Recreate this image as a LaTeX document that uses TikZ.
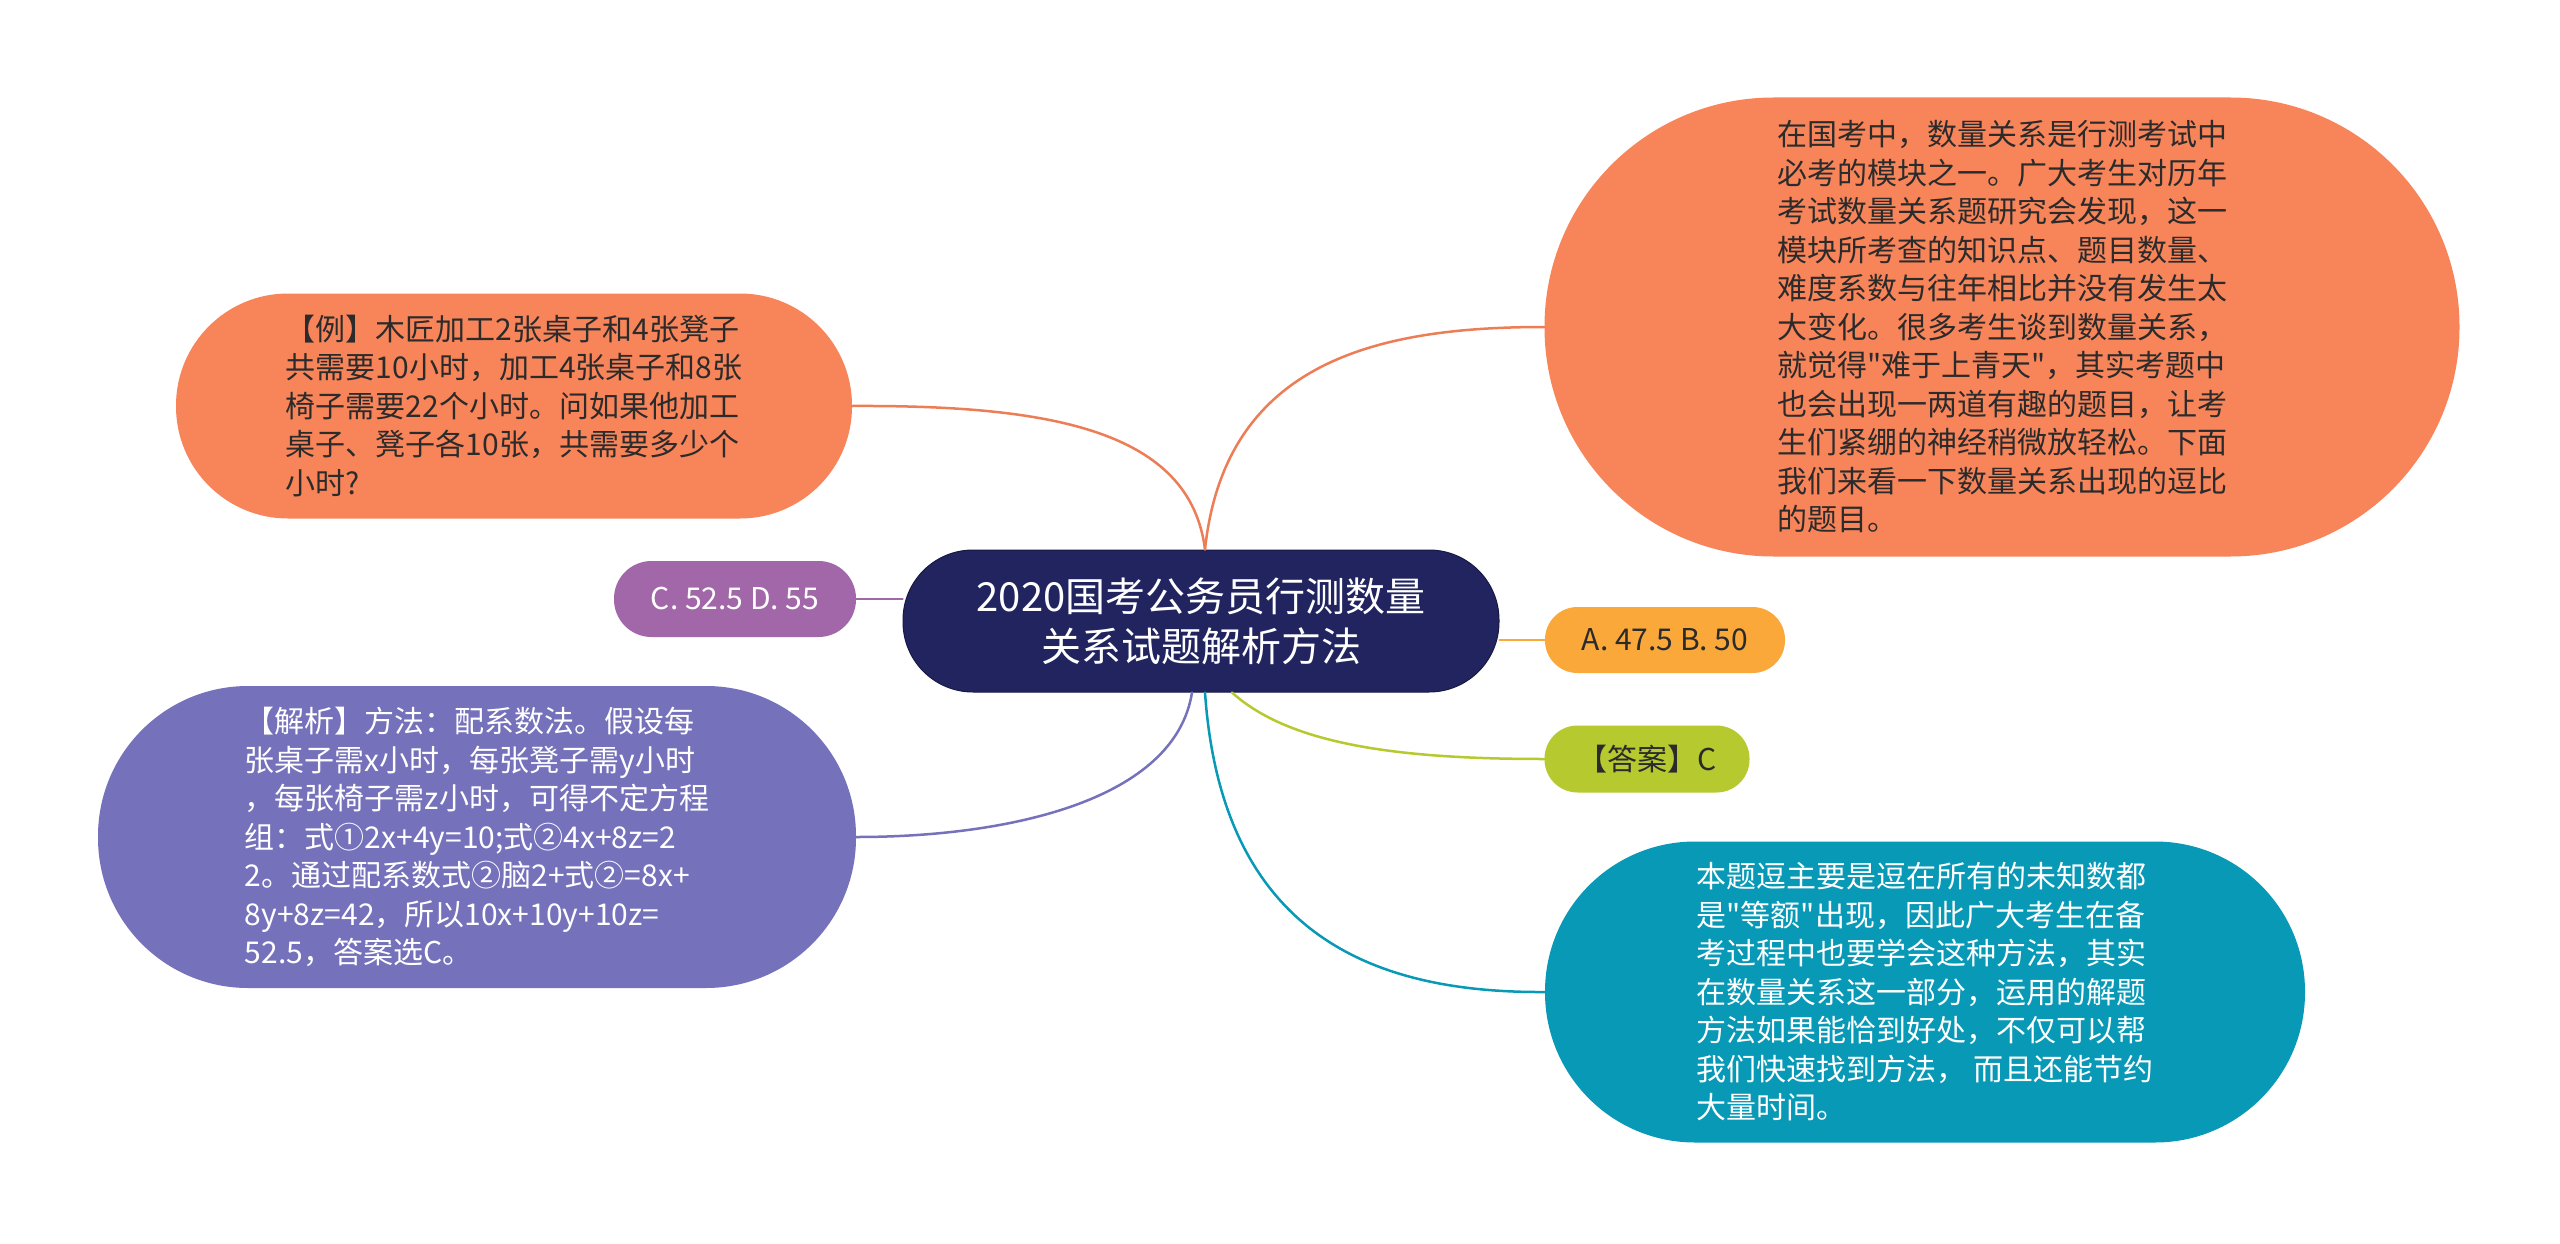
\documentclass[tikz,border=0pt]{standalone}
\usepackage{fontspec}
\setmainfont{Noto Sans CJK SC}[Ligatures=TeXOff]
\usetikzlibrary{calc}
\definecolor{cOrange}{HTML}{F8845A}
\definecolor{cPurple}{HTML}{A267A9}
\definecolor{cViolet}{HTML}{7571BB}
\definecolor{cNavy}{HTML}{21245F}
\definecolor{cAmber}{HTML}{FAA83A}
\definecolor{cGreen}{HTML}{B6C92F}
\definecolor{cTeal}{HTML}{0799B6}
\definecolor{cDark}{HTML}{2B2B2B}
\begin{document}
\begin{tikzpicture}[x=1pt,y=-1pt,
  bub/.style={inner sep=0pt, align=left, font={\fontsize{30}{38.5}\selectfont}},
  conn/.style={line width=2.5pt, line cap=round}]
\fill[white] (0,0) rectangle (2560,1244);
\useasboundingbox (0,0) rectangle (2560,1244);

% central topic
\node[inner sep=0pt, align=center, font={\fontsize{40}{50}\selectfont}, text=white,
      fill=cNavy, draw=cNavy!70!black, line width=1pt,
      minimum width=596pt, minimum height=142pt, rounded corners=70pt] (c) at (1201,621)
  {2020国考公务员行测数量\\关系试题解析方法};

% left side
\node[bub, fill=cOrange, text=cDark, minimum width=676pt, minimum height=225pt, rounded corners=112pt] (ex) at (514,406)
  {【例】木匠加工2张桌子和4张凳子\\共需要10小时，加工4张桌子和8张\\椅子需要22个小时。问如果他加工\\桌子、凳子各10张，共需要多少个\\小时?};

\node[bub, fill=cPurple, text=white, minimum width=242pt, minimum height=76pt, rounded corners=37.5pt] (cd) at (735,599)
  {C. 52.5 D. 55};

\node[bub, fill=cViolet, text=white, minimum width=758pt, minimum height=302pt, rounded corners=150pt] (jx) at (477,837)
  {【解析】方法：配系数法。假设每\\张桌子需x小时，每张凳子需y小时\\，每张椅子需z小时，可得不定方程\\组：式①2x+4y=10;式②4x+8z=2\\2。通过配系数式②脑2+式②=8x+\\8y+8z=42，所以10x+10y+10z=\\52.5，答案选C。};

% right side
\node[bub, fill=cOrange, text=cDark, minimum width=915pt, minimum height=459pt, rounded corners=229pt] (tr) at (2002,327)
  {在国考中，数量关系是行测考试中\\必考的模块之一。广大考生对历年\\考试数量关系题研究会发现，这一\\模块所考查的知识点、题目数量、\\难度系数与往年相比并没有发生太\\大变化。很多考生谈到数量关系，\\就觉得"难于上青天"，其实考题中\\也会出现一两道有趣的题目，让考\\生们紧绷的神经稍微放轻松。下面\\我们来看一下数量关系出现的逗比\\的题目。};

\node[bub, fill=cAmber, text=cDark, minimum width=240pt, minimum height=66pt, rounded corners=32.5pt] (ab) at (1665,640)
  {A. 47.5 B. 50};

\node[bub, fill=cGreen, text=cDark, minimum width=205pt, minimum height=67pt, rounded corners=33pt] (ans) at (1647,759)
  {【答案】C};

\node[bub, fill=cTeal, text=white, minimum width=760pt, minimum height=301pt, rounded corners=150pt] (tl) at (1925,992)
  {本题逗主要是逗在所有的未知数都\\是"等额"出现，因此广大考生在备\\考过程中也要学会这种方法，其实\\在数量关系这一部分，运用的解题\\方法如果能恰到好处，不仅可以帮\\我们快速找到方法， 而且还能节约\\大量时间。};

% anchor points on the central topic
\coordinate (ctop) at ($(c.north)+(4,0)$);
\coordinate (cbotL) at ($(c.south)+(-9,0)$);
\coordinate (cbotM) at ($(c.south)+(4,0)$);
\coordinate (cbotR) at ($(c.south)+(31,0)$);

% connectors
\draw[conn, cOrange!95!black] (ctop) .. controls (1190,430) and (1050,405) .. (ex.east);
\draw[conn, cOrange!95!black] (ctop) .. controls (1225,360) and (1380,327) .. (tr.west);
\draw[conn, cPurple] (c.west |- cd.east) -- (cd.east);
\draw[conn, cAmber] (c.east |- ab.west) -- (ab.west);
\draw[conn, cViolet] (cbotL) .. controls (1175,800) and (1010,837) .. (jx.east);
\draw[conn, cTeal] (cbotM) .. controls (1222,940) and (1380,993) .. (tl.west);
\draw[conn, cGreen] (cbotR) .. controls (1290,745) and (1400,759) .. (ans.west);
\end{tikzpicture}
\end{document}
